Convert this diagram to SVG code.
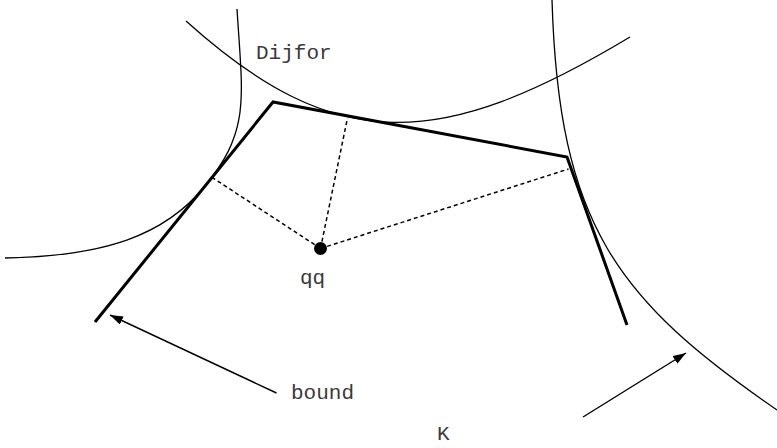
<svg xmlns="http://www.w3.org/2000/svg" width="777" height="448" viewBox="0 0 777 448">
  <style>
    .arc { fill: none; stroke: #000; stroke-width: 1.3; }
    .bound { fill: none; stroke: #000; stroke-width: 3; stroke-linejoin: miter; }
    .dash { fill: none; stroke: #000; stroke-width: 1.5; stroke-dasharray: 4 3; }
    .arrow { fill: none; stroke: #000; stroke-width: 1.4; }
    .lbl { font-family: "Liberation Mono", "Courier New", monospace; font-size: 21px; fill: #3a3a3a; }
  </style>
  <defs>
    <marker id="ah" markerUnits="userSpaceOnUse" markerWidth="14" markerHeight="10" refX="13" refY="4.5" orient="auto">
      <path d="M0,0 L13,4.5 L0,9 z" fill="#000"/>
    </marker>
  </defs>
  <rect width="777" height="448" fill="#fff"/>

  <g id="arc-left">
    <path class="arc" d="M5,258 C105,256 165,235.4 205,186 C250.6,130.4 242.6,99 237,9"/>
  </g>
  <g id="arc-top">
    <path class="arc" d="M186,21 C336,156 440,151 630,37"/>
  </g>
  <g id="arc-right">
    <path class="arc" d="M552,0 C558.75,225 617,299.6 777,410"/>
  </g>
  <g id="boundary">
    <polyline class="bound" points="95,322 273,102 567,157 627,325"/>
  </g>
  <g id="point-qq">
    <circle cx="320.5" cy="248.5" r="6.5" fill="#000"/>
    <text class="lbl" x="300" y="284">qq</text>
  </g>
  <g id="label-dijfor">
    <text class="lbl" x="256" y="59">Dijfor</text>
  </g>
  <g id="label-bound">
    <text class="lbl" x="291" y="399">bound</text>
  </g>
  <g id="label-k">
    <text class="lbl" x="437" y="440">K</text>
  </g>

  <g id="connectors">
    <line class="dash" x1="320.5" y1="248.5" x2="213" y2="178"/>
    <line class="dash" x1="320.5" y1="248.5" x2="347.5" y2="118"/>
    <line class="dash" x1="320.5" y1="248.5" x2="568.5" y2="169"/>
    <line class="arrow" x1="276.5" y1="393" x2="110" y2="315" marker-end="url(#ah)"/>
    <line class="arrow" x1="583" y1="417" x2="686" y2="353" marker-end="url(#ah)"/>
  </g>
</svg>
